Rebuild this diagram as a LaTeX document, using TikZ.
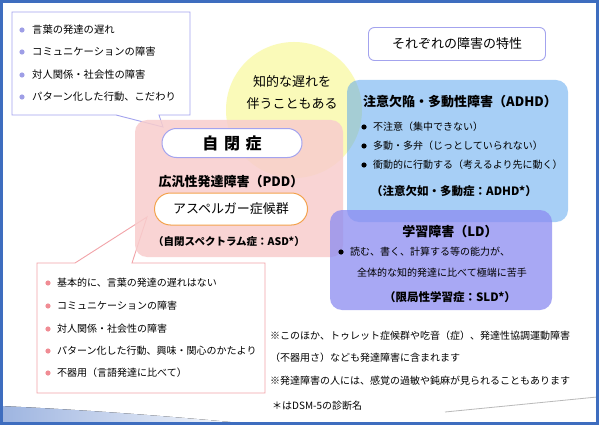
\documentclass[tikz,border=0pt]{standalone}
\usepackage{fontspec}
\setmainfont{Noto Sans CJK JP}
\definecolor{frameblue}{HTML}{3E6DBF}
\definecolor{calloutpurple}{HTML}{A3A3EE}
\definecolor{bulletpurple}{HTML}{9E9EE6}
\definecolor{calloutpink}{HTML}{F2A3A8}
\definecolor{bulletpink}{HTML}{F08C94}
\definecolor{yellowc}{HTML}{FAFAB9}
\definecolor{pinkbox}{HTML}{F8CDCD}
\definecolor{bluebox}{HTML}{51A1EF}
\definecolor{purplebox}{HTML}{8B8BF1}
\definecolor{orangeb}{HTML}{F3A24C}
\definecolor{swoosh}{HTML}{9DB4E0}
\tikzset{
  txt/.style={inner sep=0pt, anchor=west, font=\fontsize{10}{12}\selectfont},
  ctxt/.style={inner sep=0pt, font=\fontsize{10}{12}\selectfont},
  headb/.style={inner sep=0pt, font=\fontsize{13}{15}\selectfont\bfseries},
  subb/.style={inner sep=0pt, font=\fontsize{11.5}{13}\selectfont\bfseries},
  pill/.style={rounded corners=14.5pt, fill=white, line width=1pt, inner sep=0pt},
}
\begin{document}
\begin{tikzpicture}[x=1pt,y=-1pt]
\useasboundingbox (0,0) rectangle (599,425);
\fill[white] (0,0) rectangle (599,425);
% bottom decoration
\fill[left color=swoosh, right color=white] (0,406) .. controls (90,410) and (180,417) .. (262,425) -- (0,425) -- cycle;
\draw[gray!55, line width=0.8pt] (445,412) -- (597,397);
% yellow circle
\fill[yellowc] (294,110) circle [radius=68pt];
\node[ctxt, font=\fontsize{13}{15}\selectfont] (y1) at (292,82) {知的な遅れを};
\node[ctxt, font=\fontsize{13}{15}\selectfont] (y2) at (292,104) {伴うこともある};
% callouts
\draw[calloutpurple, fill=white, line width=0.9pt] (12,12) -- (190,12) -- (190,115) -- (159,115) -- (163,127) -- (116,115) -- (12,115) -- cycle;
\draw[calloutpink, fill=white, line width=0.9pt] (37,263) -- (75,263) -- (147,217) -- (132,263) -- (265,263) -- (265,393) -- (37,393) -- cycle;
% boxes
\fill[pinkbox, fill opacity=0.85, rounded corners=12pt] (135,120) rectangle (343,257);
\fill[bluebox, fill opacity=0.5, rounded corners=12pt] (347,80) rectangle (568,222);
\fill[purplebox, fill opacity=0.75, rounded corners=12pt] (330,210) rectangle (552,310);
% title
\node[draw=calloutpurple, fill=white, rounded corners=6pt, minimum width=177pt, minimum height=33pt, line width=0.9pt, font=\fontsize{13}{15}\selectfont] (title) at (457,44) {それぞれの障害の特性};
% top-left callout items
\foreach \yy in {30,52,75,97} {\fill[bulletpurple] (22,\yy) circle [radius=2.6pt];}
\node[txt, font=\fontsize{10.3}{12}\selectfont] (tl1) at (32,30) {言葉の発達の遅れ};
\node[txt, font=\fontsize{10.3}{12}\selectfont] (tl2) at (32,52) {コミュニケーションの障害};
\node[txt, font=\fontsize{10.3}{12}\selectfont] (tl3) at (32,75) {対人関係・社会性の障害};
\node[txt, font=\fontsize{10.3}{12}\selectfont] (tl4) at (32,97) {パターン化した行動、こだわり};
% bottom callout items
\foreach \yy in {283,306,329,351,373} {\fill[bulletpink] (48,\yy) circle [radius=2.6pt];}
\node[txt] (bl1) at (57,283) {基本的に、言葉の発達の遅れはない};
\node[txt] (bl2) at (57,306) {コミュニケーションの障害};
\node[txt] (bl3) at (57,329) {対人関係・社会性の障害};
\node[txt] (bl4) at (57,351) {パターン化した行動、興味・関心のかたより};
\node[txt] (bl5) at (57,373) {不器用（言語発達に比べて）};
% autism box
\node[pill, draw=calloutpurple, minimum width=140pt, minimum height=29pt, font=\fontsize{16}{18}\selectfont\bfseries] (aut) at (232,143) {自\hspace{0.35em}閉\hspace{0.35em}症};
\node[headb] (pdd) at (231,182) {広汎性発達障害（PDD）};
\node[pill, draw=orangeb, minimum width=153pt, minimum height=32pt, rounded corners=16pt, font=\fontsize{13}{15}\selectfont] (asp) at (231,209) {アスペルガー症候群};
\node[inner sep=0pt, font=\fontsize{10.5}{12}\selectfont\bfseries] (asd) at (229,242) {（自閉スペクトラム症：ASD*）};
% ADHD box
\node[headb] (adhdt) at (460,102) {注意欠陥・多動性障害（ADHD）};
\foreach \yy in {127,146,165} {\fill[black] (364,\yy) circle [radius=2.6pt];}
\node[txt] (ad1) at (373,127) {不注意（集中できない）};
\node[txt] (ad2) at (373,146) {多動・多弁（じっとしていられない）};
\node[txt] (ad3) at (373,165) {衝動的に行動する（考えるより先に動く）};
\node[subb] (adhds) at (454,191) {（注意欠如・多動症：ADHD*）};
% LD box
\node[headb] (ldt) at (450,232) {学習障害（LD）};
\fill[black] (341,252) circle [radius=2.6pt];
\node[txt] (ld1) at (350,252) {読む、書く、計算する等の能力が、};
\node[txt] (ld2) at (357,273) {全体的な知的発達に比べて極端に苦手};
\node[subb] (lds) at (450,297) {（限局性学習症：SLD*）};
% notes
\node[txt] (n1) at (270,336) {※このほか、トゥレット症候群や吃音（症）、発達性協調運動障害};
\node[txt] (n2) at (270,358) {（不器用さ）なども発達障害に含まれます};
\node[txt] (n3) at (270,381) {※発達障害の人には、感覚の過敏や鈍麻が見られることもあります};
\node[txt] (n4) at (272,406) {＊はDSM-5の診断名};
% frame
\draw[frameblue, line width=3pt] (1.5,1.5) rectangle (597.5,423.5);
\end{tikzpicture}
\end{document}
